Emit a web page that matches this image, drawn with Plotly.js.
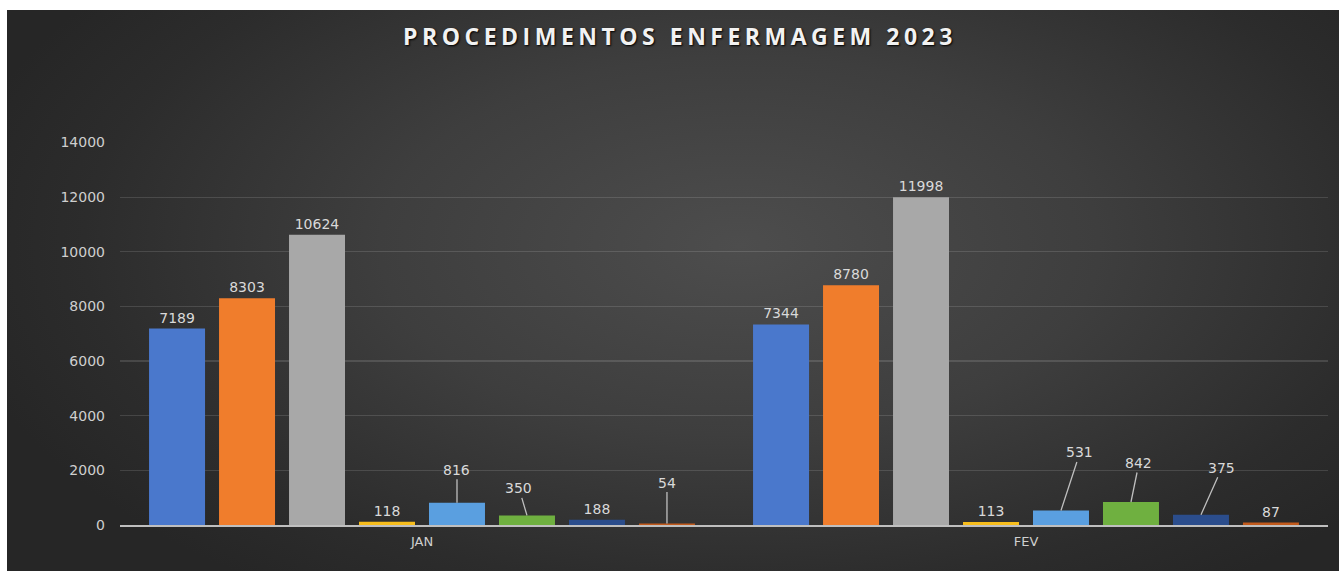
<!DOCTYPE html>
<html>
<head>
<meta charset="utf-8">
<script src="https://cdn.plot.ly/plotly-3.0.1.min.js"></script>
<style>
  html, body { margin:0; padding:0; background:#ffffff; width:1339px; height:571px; overflow:hidden; }
  #bg { position:absolute; left:7px; top:10px; width:1332px; height:561px;
        background: radial-gradient(ellipse 60% 75% at 55% 42%, #4d4d4d 0%, #3e3e3e 45%, #2c2c2c 82%, #262626 100%); }
  #chart { position:absolute; left:0; top:0; width:1339px; height:571px; }
  .gtitle { letter-spacing: 4.5px; }
</style>
</head>
<body>
<div id="bg"></div>
<div id="chart"></div>
<script>
// ---- data ----
const categories = ['JAN', 'FEV'];
const serie1 = [7189, 7344];
const serie2 = [8303, 8780];
const serie3 = [10624, 11998];
const serie4 = [118, 113];
const serie5 = [816, 531];
const serie6 = [350, 842];
const serie7 = [188, 375];
const serie8 = [54, 87];
const seriesNames = ['Série 1','Série 2','Série 3','Série 4','Série 5','Série 6','Série 7','Série 8'];

// ---- styles ----
const series = [serie1, serie2, serie3, serie4, serie5, serie6, serie7, serie8];
const colors = ['#4a78cc', '#f07d2c', '#a8a8a8', '#f7bd1c', '#5a9fe0', '#6fb040', '#2b4d8c', '#c25a1c'];
// data labels drawn with leader lines (series index, category index, label offset in px)
const callouts = [
  {s:4, c:0, ax:0,  ay:-33},
  {s:5, c:0, ax:-8, ay:-27},
  {s:7, c:0, ax:0,  ay:-41},
  {s:4, c:1, ax:19, ay:-58},
  {s:5, c:1, ax:8,  ay:-39},
  {s:6, c:1, ax:21, ay:-47}
];
const bargap = 0.073;
const labelColor = '#d9d9d9';
const labelFont = {family:'DejaVu Sans, Verdana, sans-serif', size:14, color:labelColor};

function isCallout(s, c) { return callouts.some(o => o.s === s && o.c === c); }

const traces = series.map((vals, s) => ({
  type: 'bar',
  name: seriesNames[s],
  x: categories,
  y: vals,
  marker: {color: colors[s], line: {width: 0}},
  text: vals.map((v, c) => isCallout(s, c) ? '' : String(v)),
  textposition: 'outside',
  textfont: labelFont,
  constraintext: 'none',
  cliponaxis: false,
  hoverinfo: 'x+y+name'
}));

const n = series.length;
const slot = (1 - bargap) / n;
const annotations = callouts.map(o => ({
  xref: 'x', yref: 'y',
  x: o.c + (o.s - (n - 1) / 2) * slot,
  y: series[o.s][o.c],
  text: String(series[o.s][o.c]),
  showarrow: true,
  arrowhead: 0,
  arrowwidth: 1.3,
  arrowcolor: '#bfbfbf',
  standoff: 0,
  startstandoff: 0,
  ax: o.ax, ay: o.ay,
  font: labelFont
}));

const layout = {
  width: 1339, height: 571,
  paper_bgcolor: 'rgba(0,0,0,0)',
  plot_bgcolor: 'rgba(0,0,0,0)',
  margin: {l:120, r:11, t:142, b:46},
  showlegend: false,
  barmode: 'group',
  bargap: bargap,
  bargroupgap: 0.2,
  title: {
    text: 'PROCEDIMENTOS ENFERMAGEM 2023',
    xref: 'container', yref: 'container',
    x: 680/1339, xanchor: 'center',
    y: 1 - 37/571, yanchor: 'middle',
    font: {family:'Open Sans, sans-serif', size:23, color:'#f2f2f2', weight:700, shadow:'1px 1px 2px #000'}
  },
  xaxis: {
    type: 'category',
    showline: true, linecolor: '#bfbfbf', linewidth: 1.5,
    showgrid: false, ticks: '',
    ticklabelstandoff: 4,
    tickfont: {family:'DejaVu Sans, Verdana, sans-serif', size:13, color:'#cfcfcf'},
    fixedrange: true
  },
  yaxis: {
    range: [0, 14020], tickvals: [0, 2000, 4000, 6000, 8000, 10000, 12000, 14000], tickformat: 'd',
    showgrid: true, gridcolor: 'rgba(255,255,255,0.13)', gridwidth: 1.2,
    zeroline: false, showline: false, ticks: '',
    ticklabelstandoff: 14,
    tickfont: {family:'DejaVu Sans, Verdana, sans-serif', size:14, color:'#cfcfcf'},
    fixedrange: true
  },
  annotations: annotations
};

Plotly.newPlot('chart', traces, layout, {displayModeBar: false, staticPlot: true});
</script>
</body>
</html>
